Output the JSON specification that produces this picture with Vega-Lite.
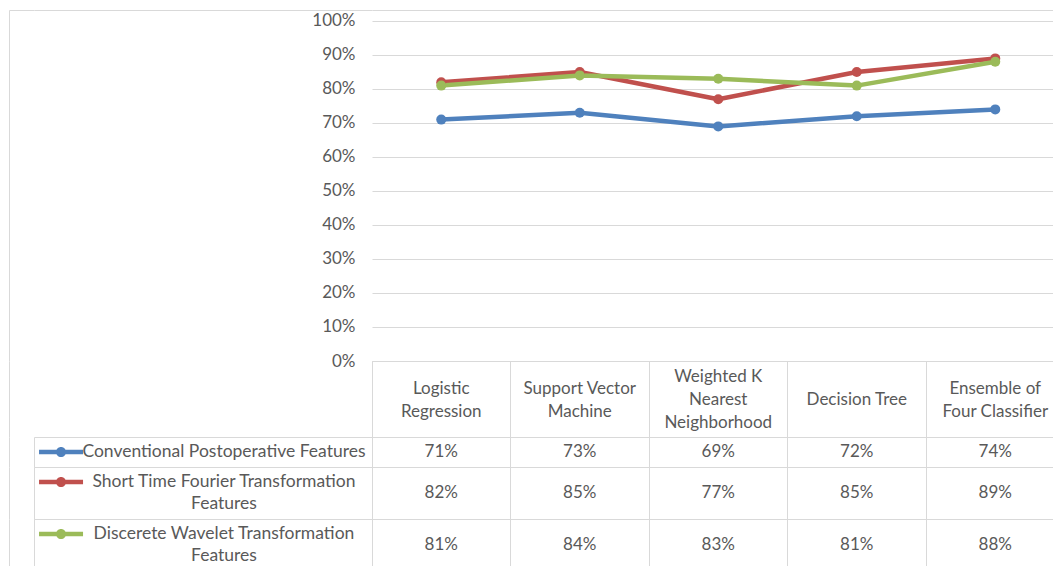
{
  "$schema": "https://vega.github.io/schema/vega-lite/v6.json",
  "background": "white",
  "padding": {"left": 9, "top": 10, "right": 0, "bottom": 0},
  "columns": 3,
  "align": "each",
  "bounds": "flush",
  "spacing": 0,
  "datasets": {
    "scores": [
      {"classifier": "Logistic Regression", "series": "Conventional Postoperative Features", "accuracy": 0.71},
      {"classifier": "Support Vector Machine", "series": "Conventional Postoperative Features", "accuracy": 0.73},
      {"classifier": "Weighted K Nearest Neighborhood", "series": "Conventional Postoperative Features", "accuracy": 0.69},
      {"classifier": "Decision Tree", "series": "Conventional Postoperative Features", "accuracy": 0.72},
      {"classifier": "Ensemble of Four Classifier", "series": "Conventional Postoperative Features", "accuracy": 0.74},
      {"classifier": "Logistic Regression", "series": "Short Time Fourier Transformation Features", "accuracy": 0.82},
      {"classifier": "Support Vector Machine", "series": "Short Time Fourier Transformation Features", "accuracy": 0.85},
      {"classifier": "Weighted K Nearest Neighborhood", "series": "Short Time Fourier Transformation Features", "accuracy": 0.77},
      {"classifier": "Decision Tree", "series": "Short Time Fourier Transformation Features", "accuracy": 0.85},
      {"classifier": "Ensemble of Four Classifier", "series": "Short Time Fourier Transformation Features", "accuracy": 0.89},
      {"classifier": "Logistic Regression", "series": "Discerete Wavelet Transformation Features", "accuracy": 0.81},
      {"classifier": "Support Vector Machine", "series": "Discerete Wavelet Transformation Features", "accuracy": 0.84},
      {"classifier": "Weighted K Nearest Neighborhood", "series": "Discerete Wavelet Transformation Features", "accuracy": 0.83},
      {"classifier": "Decision Tree", "series": "Discerete Wavelet Transformation Features", "accuracy": 0.81},
      {"classifier": "Ensemble of Four Classifier", "series": "Discerete Wavelet Transformation Features", "accuracy": 0.88}
    ],
    "classifiers": [
      {"classifier": "Logistic Regression", "header": "Logistic\nRegression"},
      {"classifier": "Support Vector Machine", "header": "Support Vector\nMachine"},
      {"classifier": "Weighted K Nearest Neighborhood", "header": "Weighted K\nNearest\nNeighborhood"},
      {"classifier": "Decision Tree", "header": "Decision Tree"},
      {"classifier": "Ensemble of Four Classifier", "header": "Ensemble of\nFour Classifier"}
    ],
    "legendLines": [
      {"series": "Conventional Postoperative Features", "line": 1, "text": "Conventional Postoperative Features"},
      {"series": "Short Time Fourier Transformation Features", "line": 1, "text": "Short Time Fourier Transformation"},
      {"series": "Short Time Fourier Transformation Features", "line": 2, "text": "Features"},
      {"series": "Discerete Wavelet Transformation Features", "line": 1, "text": "Discerete Wavelet Transformation"},
      {"series": "Discerete Wavelet Transformation Features", "line": 2, "text": "Features"}
    ]
  },
  "concat": [
    {
      "width": 25, "height": 351,
      "data": {"values": []},
      "mark": "point",
      "encoding": {
        "x": {"field": "x", "type": "quantitative", "scale": {"domain": [0, 1]},
              "axis": {"orient": "top", "domain": true, "domainColor": "#d9d9d9", "ticks": false, "labels": false, "grid": false, "title": null}},
        "y": {"field": "y", "type": "quantitative", "scale": {"domain": [0, 1]},
              "axis": {"orient": "left", "domain": true, "domainColor": "#d9d9d9", "ticks": false, "labels": false, "grid": false, "title": null}}
      }
    },
    {
      "width": 338, "height": 351,
      "data": {"values": []},
      "mark": "point",
      "encoding": {
        "x": {"field": "x", "type": "quantitative", "scale": {"domain": [0, 1]},
              "axis": {"orient": "top", "domain": true, "domainColor": "#d9d9d9", "ticks": false, "labels": false, "grid": false, "title": null}}
      }
    },
    {
      "width": 692.5, "height": 351,
      "data": {"name": "scores"},
      "encoding": {
        "x": {"field": "classifier", "type": "nominal",
              "scale": {"type": "point", "padding": 0.5, "domain": ["Logistic Regression", "Support Vector Machine", "Weighted K Nearest Neighborhood", "Decision Tree", "Ensemble of Four Classifier"]},
              "axis": {"orient": "top", "domain": true, "domainColor": "#d9d9d9", "ticks": false, "labels": false, "grid": false, "title": null}},
        "y": {"field": "accuracy", "type": "quantitative",
              "scale": {"domain": [0, 1.03235], "nice": false, "zero": true},
              "axis": {"values": [0, 0.1, 0.2, 0.3, 0.4, 0.5, 0.6, 0.7, 0.8, 0.9, 1], "format": ".0%", "grid": true, "gridColor": "#d9d9d9", "gridWidth": 1,
                       "domain": false, "ticks": false, "labelPadding": 17, "labelFont": "Lato", "labelFontSize": 17, "labelColor": "#595959", "title": null}},
        "color": {"field": "series", "type": "nominal", "legend": null,
                  "scale": {"domain": ["Conventional Postoperative Features", "Short Time Fourier Transformation Features", "Discerete Wavelet Transformation Features"], "range": ["#4f81bd", "#c0504d", "#9bbb59"]}}
      },
      "layer": [
        {"mark": {"type": "line", "strokeWidth": 4.5, "strokeCap": "round", "strokeJoin": "round"}},
        {"mark": {"type": "point", "filled": true, "size": 100, "opacity": 1, "strokeWidth": 0}}
      ]
    },
    {
      "width": 25, "height": 76,
      "data": {"values": []},
      "mark": "point",
      "encoding": {
        "y": {"field": "y", "type": "quantitative", "scale": {"domain": [0, 1]},
              "axis": {"orient": "left", "domain": true, "domainColor": "#d9d9d9", "ticks": false, "labels": false, "grid": false, "title": null}}
      }
    },
    {
      "width": 338, "height": 76,
      "data": {"values": []},
      "mark": "point"
    },
    {
      "width": 692.5, "height": 76,
      "view": {"stroke": "#d9d9d9"},
      "data": {"name": "classifiers"},
      "encoding": {
        "x": {"field": "classifier", "type": "nominal",
              "scale": {"type": "band", "paddingInner": 0, "paddingOuter": 0, "domain": ["Logistic Regression", "Support Vector Machine", "Weighted K Nearest Neighborhood", "Decision Tree", "Ensemble of Four Classifier"]},
              "axis": {"orient": "bottom", "bandPosition": 0, "grid": true, "gridColor": "#d9d9d9", "domain": false, "ticks": false, "labels": false, "title": null}},
        "text": {"field": "header"}
      },
      "layer": [
        {
          "transform": [{"filter": "length(split(datum.header, '\\n')) == 1"}],
          "mark": {"type": "text", "align": "center", "baseline": "middle", "lineBreak": "\n", "lineHeight": 23, "dy": 1, "font": "Lato", "fontSize": 17, "color": "#595959"}
        },
        {
          "transform": [{"filter": "length(split(datum.header, '\\n')) == 2"}],
          "mark": {"type": "text", "align": "center", "baseline": "middle", "lineBreak": "\n", "lineHeight": 23, "dy": -10.5, "font": "Lato", "fontSize": 17, "color": "#595959"}
        },
        {
          "transform": [{"filter": "length(split(datum.header, '\\n')) == 3"}],
          "mark": {"type": "text", "align": "center", "baseline": "middle", "lineBreak": "\n", "lineHeight": 23, "dy": -22, "font": "Lato", "fontSize": 17, "color": "#595959"}
        }
      ]
    },
    {
      "width": 25, "height": 30,
      "data": {"values": []},
      "mark": "point",
      "encoding": {
        "y": {"field": "y", "type": "quantitative", "scale": {"domain": [0, 1]},
              "axis": {"orient": "left", "domain": true, "domainColor": "#d9d9d9", "ticks": false, "labels": false, "grid": false, "title": null}}
      }
    },
    {
      "width": 338, "height": 30,
      "view": {"stroke": "#d9d9d9"},
      "data": {"name": "legendLines"},
      "transform": [{"filter": {"field": "series", "equal": "Conventional Postoperative Features"}}],
      "resolve": {"scale": {"x": "independent"}},
      "layer": [
        {
          "transform": [{"filter": "datum.line == 1"}],
          "mark": {"type": "point", "shape": "M-1,-0.1L1,-0.1L1,0.1L-1,0.1Z M0.23,0A0.23,0.23 0 1 1 -0.23,0A0.23,0.23 0 1 1 0.23,0Z", "filled": true, "size": 1936, "opacity": 1, "strokeWidth": 0},
          "encoding": {
            "x": {"field": "series", "type": "nominal", "scale": {"type": "point", "padding": 0, "align": 0.08}, "axis": null},
            "y": {"field": "line", "type": "ordinal", "scale": {"type": "band", "paddingInner": 0, "paddingOuter": 0.18}, "axis": null},
            "color": {"field": "series", "type": "nominal", "legend": null,
                      "scale": {"domain": ["Conventional Postoperative Features", "Short Time Fourier Transformation Features", "Discerete Wavelet Transformation Features"], "range": ["#4f81bd", "#c0504d", "#9bbb59"]}}
          }
        },
        {
          "mark": {"type": "text", "align": "center", "baseline": "middle", "font": "Lato", "fontSize": 17.5, "color": "#595959"},
          "encoding": {
            "x": {"field": "series", "type": "nominal", "scale": {"type": "point", "padding": 0, "align": 0.562}, "axis": null},
            "y": {"field": "line", "type": "ordinal", "scale": {"type": "band", "paddingInner": 0, "paddingOuter": 0.18}, "axis": null},
            "text": {"field": "text"}
          }
        }
      ]
    },
    {
      "width": 692.5, "height": 30,
      "view": {"stroke": "#d9d9d9"},
      "data": {"name": "scores"},
      "transform": [{"filter": {"field": "series", "equal": "Conventional Postoperative Features"}}],
      "mark": {"type": "text", "align": "center", "baseline": "middle", "font": "Lato", "fontSize": 17, "color": "#595959"},
      "encoding": {
        "x": {"field": "classifier", "type": "nominal",
              "scale": {"type": "band", "paddingInner": 0, "paddingOuter": 0, "domain": ["Logistic Regression", "Support Vector Machine", "Weighted K Nearest Neighborhood", "Decision Tree", "Ensemble of Four Classifier"]},
              "axis": {"orient": "bottom", "bandPosition": 0, "grid": true, "gridColor": "#d9d9d9", "domain": false, "ticks": false, "labels": false, "title": null}},
        "text": {"field": "accuracy", "type": "quantitative", "format": ".0%"}
      }
    },
    {
      "width": 25, "height": 52,
      "data": {"values": []},
      "mark": "point",
      "encoding": {
        "y": {"field": "y", "type": "quantitative", "scale": {"domain": [0, 1]},
              "axis": {"orient": "left", "domain": true, "domainColor": "#d9d9d9", "ticks": false, "labels": false, "grid": false, "title": null}}
      }
    },
    {
      "width": 338, "height": 52,
      "view": {"stroke": "#d9d9d9"},
      "data": {"name": "legendLines"},
      "transform": [{"filter": {"field": "series", "equal": "Short Time Fourier Transformation Features"}}],
      "resolve": {"scale": {"x": "independent"}},
      "layer": [
        {
          "transform": [{"filter": "datum.line == 1"}],
          "mark": {"type": "point", "shape": "M-1,-0.1L1,-0.1L1,0.1L-1,0.1Z M0.23,0A0.23,0.23 0 1 1 -0.23,0A0.23,0.23 0 1 1 0.23,0Z", "filled": true, "size": 1936, "opacity": 1, "strokeWidth": 0},
          "encoding": {
            "x": {"field": "series", "type": "nominal", "scale": {"type": "point", "padding": 0, "align": 0.08}, "axis": null},
            "y": {"field": "line", "type": "ordinal", "scale": {"type": "band", "paddingInner": 0, "paddingOuter": 0.18}, "axis": null},
            "color": {"field": "series", "type": "nominal", "legend": null,
                      "scale": {"domain": ["Conventional Postoperative Features", "Short Time Fourier Transformation Features", "Discerete Wavelet Transformation Features"], "range": ["#4f81bd", "#c0504d", "#9bbb59"]}}
          }
        },
        {
          "mark": {"type": "text", "align": "center", "baseline": "middle", "font": "Lato", "fontSize": 17.5, "color": "#595959"},
          "encoding": {
            "x": {"field": "series", "type": "nominal", "scale": {"type": "point", "padding": 0, "align": 0.562}, "axis": null},
            "y": {"field": "line", "type": "ordinal", "scale": {"type": "band", "paddingInner": 0, "paddingOuter": 0.18}, "axis": null},
            "text": {"field": "text"}
          }
        }
      ]
    },
    {
      "width": 692.5, "height": 52,
      "view": {"stroke": "#d9d9d9"},
      "data": {"name": "scores"},
      "transform": [{"filter": {"field": "series", "equal": "Short Time Fourier Transformation Features"}}],
      "mark": {"type": "text", "align": "center", "baseline": "middle", "font": "Lato", "fontSize": 17, "color": "#595959"},
      "encoding": {
        "x": {"field": "classifier", "type": "nominal",
              "scale": {"type": "band", "paddingInner": 0, "paddingOuter": 0, "domain": ["Logistic Regression", "Support Vector Machine", "Weighted K Nearest Neighborhood", "Decision Tree", "Ensemble of Four Classifier"]},
              "axis": {"orient": "bottom", "bandPosition": 0, "grid": true, "gridColor": "#d9d9d9", "domain": false, "ticks": false, "labels": false, "title": null}},
        "text": {"field": "accuracy", "type": "quantitative", "format": ".0%"}
      }
    },
    {
      "width": 25, "height": 52,
      "data": {"values": []},
      "mark": "point",
      "encoding": {
        "y": {"field": "y", "type": "quantitative", "scale": {"domain": [0, 1]},
              "axis": {"orient": "left", "domain": true, "domainColor": "#d9d9d9", "ticks": false, "labels": false, "grid": false, "title": null}}
      }
    },
    {
      "width": 338, "height": 52,
      "view": {"stroke": "#d9d9d9"},
      "data": {"name": "legendLines"},
      "transform": [{"filter": {"field": "series", "equal": "Discerete Wavelet Transformation Features"}}],
      "resolve": {"scale": {"x": "independent"}},
      "layer": [
        {
          "transform": [{"filter": "datum.line == 1"}],
          "mark": {"type": "point", "shape": "M-1,-0.1L1,-0.1L1,0.1L-1,0.1Z M0.23,0A0.23,0.23 0 1 1 -0.23,0A0.23,0.23 0 1 1 0.23,0Z", "filled": true, "size": 1936, "opacity": 1, "strokeWidth": 0},
          "encoding": {
            "x": {"field": "series", "type": "nominal", "scale": {"type": "point", "padding": 0, "align": 0.08}, "axis": null},
            "y": {"field": "line", "type": "ordinal", "scale": {"type": "band", "paddingInner": 0, "paddingOuter": 0.18}, "axis": null},
            "color": {"field": "series", "type": "nominal", "legend": null,
                      "scale": {"domain": ["Conventional Postoperative Features", "Short Time Fourier Transformation Features", "Discerete Wavelet Transformation Features"], "range": ["#4f81bd", "#c0504d", "#9bbb59"]}}
          }
        },
        {
          "mark": {"type": "text", "align": "center", "baseline": "middle", "font": "Lato", "fontSize": 17.5, "color": "#595959"},
          "encoding": {
            "x": {"field": "series", "type": "nominal", "scale": {"type": "point", "padding": 0, "align": 0.562}, "axis": null},
            "y": {"field": "line", "type": "ordinal", "scale": {"type": "band", "paddingInner": 0, "paddingOuter": 0.18}, "axis": null},
            "text": {"field": "text"}
          }
        }
      ]
    },
    {
      "width": 692.5, "height": 52,
      "view": {"stroke": "#d9d9d9"},
      "data": {"name": "scores"},
      "transform": [{"filter": {"field": "series", "equal": "Discerete Wavelet Transformation Features"}}],
      "mark": {"type": "text", "align": "center", "baseline": "middle", "font": "Lato", "fontSize": 17, "color": "#595959"},
      "encoding": {
        "x": {"field": "classifier", "type": "nominal",
              "scale": {"type": "band", "paddingInner": 0, "paddingOuter": 0, "domain": ["Logistic Regression", "Support Vector Machine", "Weighted K Nearest Neighborhood", "Decision Tree", "Ensemble of Four Classifier"]},
              "axis": {"orient": "bottom", "bandPosition": 0, "grid": true, "gridColor": "#d9d9d9", "domain": false, "ticks": false, "labels": false, "title": null}},
        "text": {"field": "accuracy", "type": "quantitative", "format": ".0%"}
      }
    }
  ],
  "config": {
    "view": {"stroke": null},
    "font": "Lato",
    "axis": {"labelFont": "Lato", "labelColor": "#595959"}
  }
}
